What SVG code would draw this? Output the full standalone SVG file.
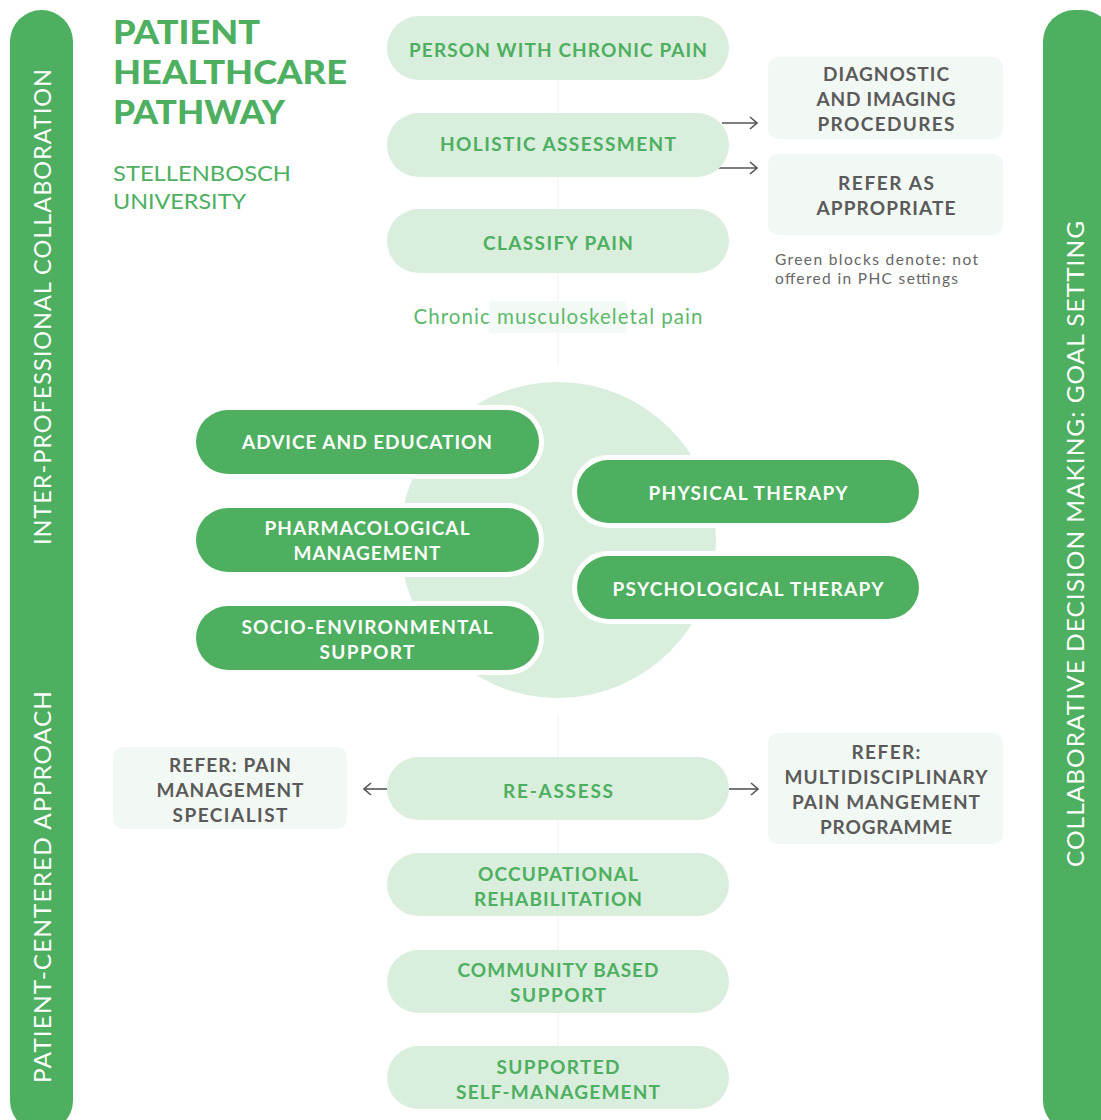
<svg xmlns="http://www.w3.org/2000/svg" width="1101" height="1120" viewBox="0 0 1101 1120">
<defs>
<style>
.bar{fill:#4daf5f}
.bartxt{font-family:Lato,"Open Sans",sans-serif;font-size:24px;fill:#fff;text-anchor:middle;letter-spacing:1px}
.title{font-family:Lato,"Open Sans",sans-serif;font-size:33px;font-weight:900;fill:#4daf5f}
.sub{font-family:Lato,"Open Sans",sans-serif;font-size:22px;fill:#4daf5f}
.lp{fill:#d9eedd}
.lptxt{font-family:Lato,"Open Sans",sans-serif;font-size:19px;font-weight:700;fill:#4daf5f;text-anchor:middle}
.dp{fill:#4daf5f;stroke:#fff;stroke-width:10;paint-order:stroke}
.dptxt{font-family:Lato,"Open Sans",sans-serif;font-size:19px;font-weight:700;fill:#fff;text-anchor:middle}
.gb{fill:#f2f8f3}
.gbtxt{font-family:Lato,"Open Sans",sans-serif;font-size:19px;font-weight:700;fill:#5a5a5a;text-anchor:middle}
.note{font-family:Lato,"Open Sans",sans-serif;font-size:15.5px;fill:#666}
.arr{stroke:#555;stroke-width:1.6;fill:none;marker-end:url(#ah)}
</style>
<marker id="ah" viewBox="0 0 10 14" refX="9" refY="7" markerWidth="10" markerHeight="14" markerUnits="userSpaceOnUse" orient="auto">
<path d="M2,1 L9,7 L2,13" fill="none" stroke="#555" stroke-width="1.6"/>
</marker>
</defs>
<rect width="1101" height="1120" fill="#fff"/>

<g id="background">
<line x1="558" y1="80" x2="558" y2="365" stroke="#f1f4f1" stroke-width="1.2"/>
<line x1="558" y1="715" x2="558" y2="1046" stroke="#f1f4f1" stroke-width="1.2"/>
<circle cx="558" cy="540" r="158" fill="#d9eedd"/>
</g>

<g id="bar-left">
<rect class="bar" x="10" y="10" width="63" height="1122" rx="31.5"/>
<text class="bartxt" transform="translate(42,306.5) rotate(-90)" x="0" y="8.5" textLength="477" lengthAdjust="spacingAndGlyphs">INTER-PROFESSIONAL COLLABORATION</text>
<text class="bartxt" transform="translate(42,886.5) rotate(-90)" x="0" y="8.5" textLength="393" lengthAdjust="spacingAndGlyphs">PATIENT-CENTERED APPROACH</text>
</g>

<g id="bar-right">
<rect class="bar" x="1043" y="10" width="70" height="1122" rx="31.5"/>
<text class="bartxt" transform="translate(1075,543.5) rotate(-90)" x="0" y="8.5" textLength="647" lengthAdjust="spacingAndGlyphs">COLLABORATIVE DECISION MAKING: GOAL SETTING</text>
</g>

<g id="title">
<text class="title" x="113" y="44" textLength="147" lengthAdjust="spacingAndGlyphs">PATIENT</text>
<text class="title" x="113" y="84" textLength="234" lengthAdjust="spacingAndGlyphs">HEALTHCARE</text>
<text class="title" x="113" y="124" textLength="172" lengthAdjust="spacingAndGlyphs">PATHWAY</text>
<text class="sub" x="113" y="181" textLength="178" lengthAdjust="spacingAndGlyphs">STELLENBOSCH</text>
<text class="sub" x="113" y="209" textLength="133" lengthAdjust="spacingAndGlyphs">UNIVERSITY</text>
</g>

<g id="connectors">
<line class="arr" x1="722" y1="123" x2="757" y2="123"/>
<line class="arr" x1="718" y1="168" x2="757" y2="168"/>
<line class="arr" x1="387" y1="789" x2="364" y2="789"/>
<line class="arr" x1="729" y1="789" x2="758" y2="789"/>
</g>

<g id="node-person">
<rect class="lp" x="387" y="16" width="342" height="64" rx="32"/>
<text class="lptxt" x="558" y="57" textLength="298">PERSON WITH CHRONIC PAIN</text>
</g>
<g id="node-holistic">
<rect class="lp" x="387" y="113" width="342" height="64" rx="32"/>
<text class="lptxt" x="558" y="151" textLength="236">HOLISTIC ASSESSMENT</text>
</g>
<g id="node-classify">
<rect class="lp" x="387" y="209" width="342" height="64" rx="32"/>
<text class="lptxt" x="558" y="250" textLength="150">CLASSIFY PAIN</text>
</g>
<g id="label-chronic">
<rect x="489" y="301" width="138" height="32" fill="#f3f9f4"/>
<text x="558" y="324" font-family="Lato,'Open Sans',sans-serif" font-size="20.5" fill="#5cb86c" text-anchor="middle" textLength="289">Chronic musculoskeletal pain</text>
</g>

<g id="node-diagnostic">
<rect class="gb" x="768" y="57" width="235" height="82" rx="10"/>
<text class="gbtxt" x="886" y="81" textLength="126">DIAGNOSTIC</text>
<text class="gbtxt" x="886" y="106" textLength="139">AND IMAGING</text>
<text class="gbtxt" x="886" y="131" textLength="137">PROCEDURES</text>
</g>
<g id="node-refer-appropriate">
<rect class="gb" x="768" y="154" width="235" height="81" rx="10"/>
<text class="gbtxt" x="886" y="190" textLength="96">REFER AS</text>
<text class="gbtxt" x="886" y="215" textLength="139">APPROPRIATE</text>
</g>
<g id="note">
<text class="note" x="775" y="265" textLength="203">Green blocks denote: not</text>
<text class="note" x="775" y="284" textLength="183">offered in PHC settings</text>
</g>

<g id="node-advice">
<rect class="dp" x="196" y="410" width="343" height="64" rx="32"/>
<text class="dptxt" x="367" y="449" textLength="250">ADVICE AND EDUCATION</text>
</g>
<g id="node-pharma">
<rect class="dp" x="196" y="508" width="343" height="64" rx="32"/>
<text class="dptxt" x="367" y="535" textLength="205">PHARMACOLOGICAL</text>
<text class="dptxt" x="367" y="560" textLength="147">MANAGEMENT</text>
</g>
<g id="node-socio">
<rect class="dp" x="196" y="606" width="343" height="64" rx="32"/>
<text class="dptxt" x="367" y="634" textLength="251">SOCIO-ENVIRONMENTAL</text>
<text class="dptxt" x="367" y="659" textLength="95">SUPPORT</text>
</g>
<g id="node-physical">
<rect class="dp" x="577" y="460" width="342" height="63" rx="31.5"/>
<text class="dptxt" x="748" y="500" textLength="199">PHYSICAL THERAPY</text>
</g>
<g id="node-psych">
<rect class="dp" x="577" y="556" width="342" height="63" rx="31.5"/>
<text class="dptxt" x="748" y="596" textLength="271">PSYCHOLOGICAL THERAPY</text>
</g>

<g id="node-refer-specialist">
<rect class="gb" x="113" y="747" width="234" height="82" rx="10"/>
<text class="gbtxt" x="230" y="772" textLength="122">REFER: PAIN</text>
<text class="gbtxt" x="230" y="797" textLength="147">MANAGEMENT</text>
<text class="gbtxt" x="230" y="822" textLength="115">SPECIALIST</text>
</g>
<g id="node-reassess">
<rect class="lp" x="387" y="757" width="342" height="63" rx="31.5"/>
<text class="lptxt" x="558" y="798" textLength="110">RE-ASSESS</text>
</g>
<g id="node-refer-multi">
<rect class="gb" x="768" y="733" width="235" height="111" rx="10"/>
<text class="gbtxt" x="886" y="759" textLength="69">REFER:</text>
<text class="gbtxt" x="886" y="784" textLength="203">MULTIDISCIPLINARY</text>
<text class="gbtxt" x="886" y="809" textLength="188">PAIN MANGEMENT</text>
<text class="gbtxt" x="886" y="834" textLength="132">PROGRAMME</text>
</g>
<g id="node-occupational">
<rect class="lp" x="387" y="853" width="342" height="63" rx="31.5"/>
<text class="lptxt" x="558" y="881" textLength="160">OCCUPATIONAL</text>
<text class="lptxt" x="558" y="906" textLength="168">REHABILITATION</text>
</g>
<g id="node-community">
<rect class="lp" x="387" y="950" width="342" height="63" rx="31.5"/>
<text class="lptxt" x="558" y="977" textLength="201">COMMUNITY BASED</text>
<text class="lptxt" x="558" y="1002" textLength="96">SUPPORT</text>
</g>
<g id="node-supported">
<rect class="lp" x="387" y="1046" width="342" height="63" rx="31.5"/>
<text class="lptxt" x="558" y="1074" textLength="123">SUPPORTED</text>
<text class="lptxt" x="558" y="1099" textLength="204">SELF-MANAGEMENT</text>
</g>
</svg>
